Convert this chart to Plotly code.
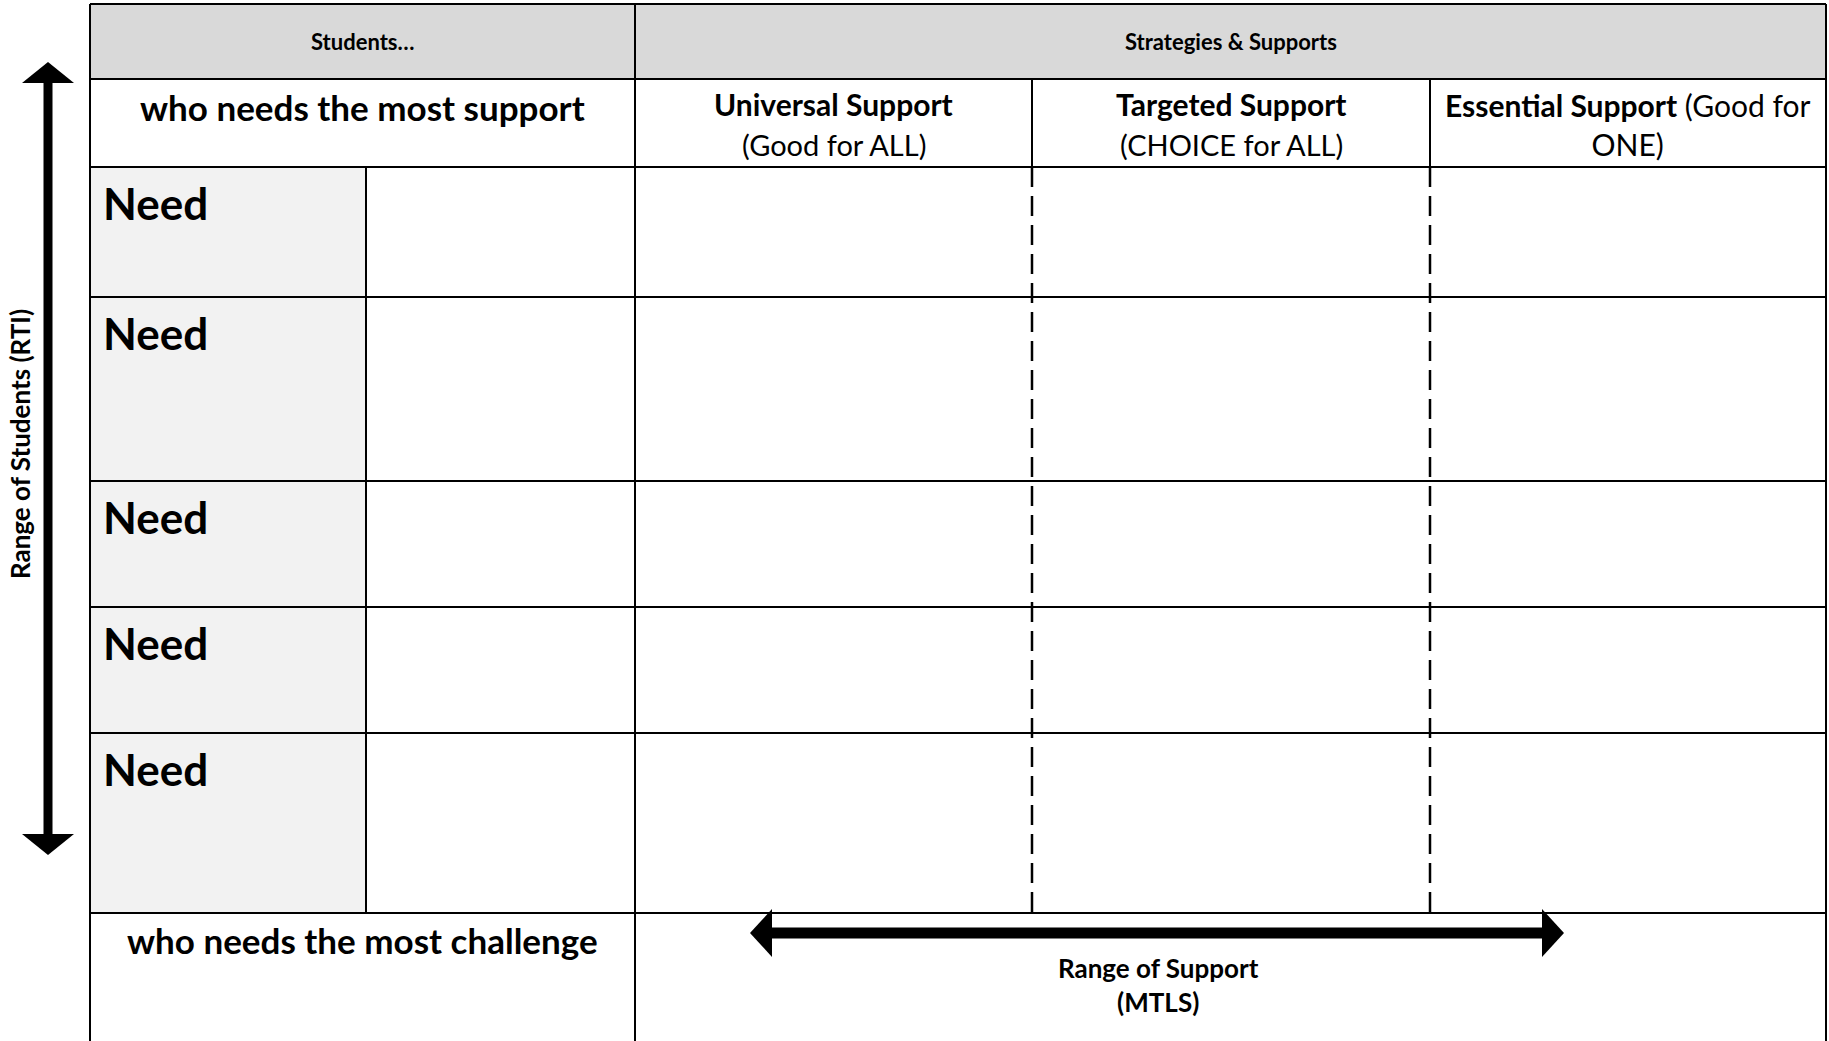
import plotly.graph_objects as go

W, H = 1829, 1041

# ---- content ----
header_left = "Students…"
header_right = "Strategies & Supports"
top_row_label = "who needs the most support"
bottom_row_label = "who needs the most challenge"
support_titles = ["Universal Support", "Targeted Support", "Essential Support"]
support_subs = ["(Good for ALL)", "(CHOICE for ALL)", "(Good for<br>ONE)"]
need_labels = ["Need", "Need", "Need", "Need", "Need"]
y_arrow_label = "Range of Students (RTI)"
x_arrow_label = "Range of Support<br>(MTLS)"

# ---- layout geometry (pixels) ----
X_LEFT, X_NEED, X_MID, X_C1, X_C2, X_RIGHT = 90, 366, 635, 1032, 1430, 1826
Y_TOP, Y_HDR, Y_SUB = 4, 79, 167
ROW_BOUNDS = [167, 297, 481, 607, 733, 913]
Y_BOTTOM = 1045

FONT = "Lato"
BLACK = "#000000"
LW = 2

shapes = []
ann = []

def rect(x0, y0, x1, y1, fill):
    shapes.append(dict(type="rect", x0=x0, y0=y0, x1=x1, y1=y1, xref="x", yref="y",
                       fillcolor=fill, line=dict(width=0), layer="below"))

def line(x0, y0, x1, y1, dash="solid", w=LW):
    shapes.append(dict(type="line", x0=x0, y0=y0, x1=x1, y1=y1, xref="x", yref="y",
                       line=dict(color=BLACK, width=w, dash=dash)))

def text(x, y, s, size, bold=False, xanchor="center", yanchor="middle", align="center", angle=0):
    ann.append(dict(x=x, y=y, xref="x", yref="y", text=(f"<b>{s}</b>" if bold else s),
                    showarrow=False, xanchor=xanchor, yanchor=yanchor, align=align,
                    textangle=angle, font=dict(family=FONT, size=size, color=BLACK)))

# fills
rect(X_LEFT, Y_TOP, X_RIGHT, Y_HDR, "#d9d9d9")
for i in range(len(need_labels)):
    rect(X_LEFT, ROW_BOUNDS[i], X_NEED, ROW_BOUNDS[i + 1], "#f2f2f2")

# horizontal lines
for y in [Y_TOP, Y_HDR, Y_SUB] + ROW_BOUNDS:
    line(X_LEFT, y, X_RIGHT, y)
# vertical borders
line(X_LEFT, Y_TOP, X_LEFT, Y_BOTTOM)
line(X_RIGHT, Y_TOP, X_RIGHT, Y_BOTTOM)
line(X_MID, Y_TOP, X_MID, Y_BOTTOM)
line(X_NEED, ROW_BOUNDS[0], X_NEED, ROW_BOUNDS[-1])
for xc in (X_C1, X_C2):
    line(xc, Y_HDR, xc, Y_SUB)
    line(xc, Y_SUB, xc, ROW_BOUNDS[-1], dash="20px,9px", w=2.5)

# header texts
text((X_LEFT + X_MID) / 2, (Y_TOP + Y_HDR) / 2, header_left, 22, bold=True)
text((X_MID + X_RIGHT) / 2, (Y_TOP + Y_HDR) / 2, header_right, 22, bold=True)
text((X_LEFT + X_MID) / 2, 107, top_row_label, 35, bold=True)

col_edges = [X_MID, X_C1, X_C2, X_RIGHT]
for i, (t, s) in enumerate(zip(support_titles, support_subs)):
    cx = (col_edges[i] + col_edges[i + 1]) / 2
    if i < 2:
        text(cx, 104, t, 30, bold=True)
        text(cx, 144, s, 29)
    else:
        text(cx, 124, f"<b>{t}</b> {s}", 30)

for i, lab in enumerate(need_labels):
    text(101, ROW_BOUNDS[i] + 36, lab, 44, bold=True, xanchor="left")

text((X_LEFT + X_MID) / 2, 940, bottom_row_label, 35, bold=True)
text(1158, 985, x_arrow_label, 26, bold=True)

# vertical arrow (Range of Students)
AX, A_TOP, A_BOT = 48, 62, 855
line(AX, A_TOP + 18, AX, A_BOT - 18, w=9)
shapes.append(dict(type="path", path=f"M {AX-26},{A_TOP+21} L {AX},{A_TOP} L {AX+26},{A_TOP+21} Z",
                   fillcolor=BLACK, line=dict(width=0)))
shapes.append(dict(type="path", path=f"M {AX-26},{A_BOT-21} L {AX},{A_BOT} L {AX+26},{A_BOT-21} Z",
                   fillcolor=BLACK, line=dict(width=0)))
text(20, 444, y_arrow_label, 26, bold=True, angle=-90)

# horizontal arrow (Range of Support)
HY, HX0, HX1 = 933, 750, 1564
line(HX0 + 18, HY, HX1 - 18, HY, w=11)
shapes.append(dict(type="path", path=f"M {HX0+22},{HY-24} L {HX0},{HY} L {HX0+22},{HY+24} Z",
                   fillcolor=BLACK, line=dict(width=0)))
shapes.append(dict(type="path", path=f"M {HX1-22},{HY-24} L {HX1},{HY} L {HX1-22},{HY+24} Z",
                   fillcolor=BLACK, line=dict(width=0)))

fig = go.Figure()
fig.update_layout(
    width=W, height=H, margin=dict(l=0, r=0, t=0, b=0),
    paper_bgcolor="white", plot_bgcolor="white",
    xaxis=dict(range=[0, W], visible=False, fixedrange=True),
    yaxis=dict(range=[H, 0], visible=False, fixedrange=True),
    shapes=shapes, annotations=ann, showlegend=False,
)
fig.write_html("out.html", config={"displayModeBar": False},
               post_script="document.body.style.margin='0';document.body.style.overflow='hidden';")
